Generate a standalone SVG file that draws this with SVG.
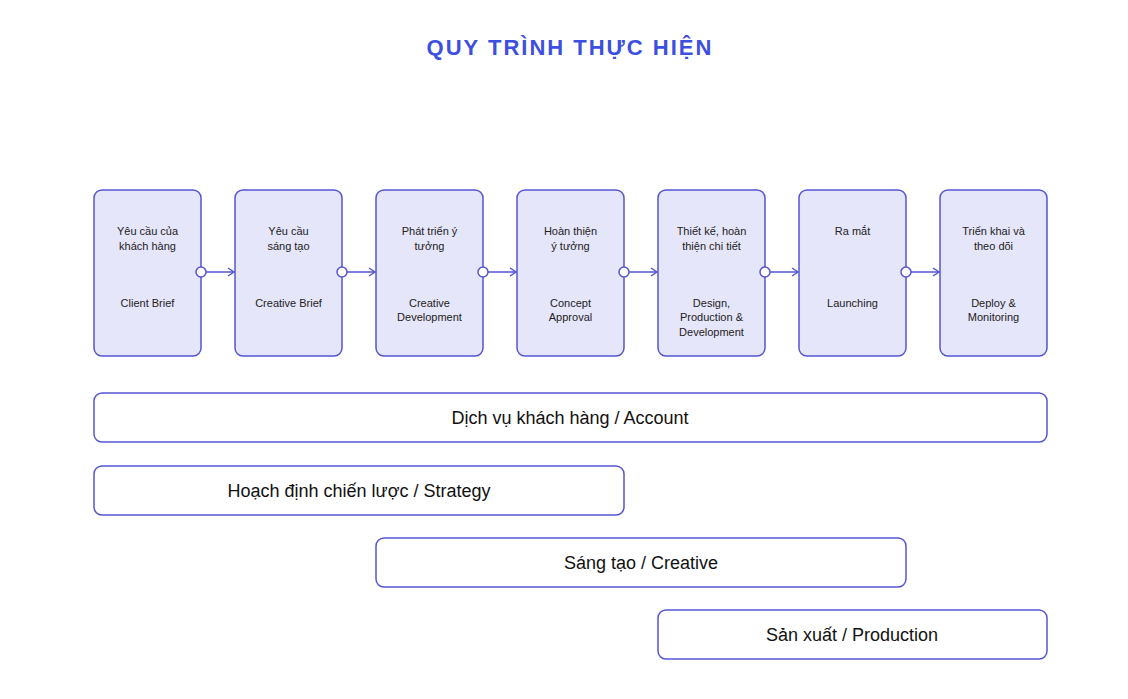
<svg xmlns="http://www.w3.org/2000/svg" width="1128" height="699" viewBox="0 0 1128 699">
<style>
.n{fill:#e6e6fa;stroke:#5555d4;stroke-width:1.5}
.b{fill:#fff;stroke:#5555d4;stroke-width:1.5}
.t{font-family:"Liberation Sans",Arial,sans-serif;font-size:11px;fill:#222;text-anchor:middle}
.bt{font-family:"Liberation Sans",Arial,sans-serif;font-size:18px;fill:#111;text-anchor:middle}
.c{fill:#fff;stroke:#5555d4;stroke-width:1.5}
.l{stroke:#5555d4;stroke-width:1.5;fill:none}
</style>
<defs><marker id="a" markerWidth="10" markerHeight="10" refX="8" refY="5" orient="auto" markerUnits="userSpaceOnUse"><path d="M2,1 L8,5 L2,9" fill="none" stroke="#5555d4" stroke-width="1.5"/></marker></defs>
<rect width="1128" height="699" fill="#fff"/>
<text x="570" y="55" font-family="Liberation Sans,Arial,sans-serif" font-size="22" font-weight="bold" fill="#3c4fe0" text-anchor="middle" letter-spacing="2">QUY TRÌNH THỰC HIỆN</text>
<g id="connectors">
<path class="l" d="M206,272 H234" marker-end="url(#a)"/>
<path class="l" d="M347,272 H375" marker-end="url(#a)"/>
<path class="l" d="M488,272 H516" marker-end="url(#a)"/>
<path class="l" d="M629,272 H657" marker-end="url(#a)"/>
<path class="l" d="M770,272 H798" marker-end="url(#a)"/>
<path class="l" d="M911,272 H939" marker-end="url(#a)"/>
</g>
<g id="n1"><rect class="n" x="94" y="190" width="107" height="166" rx="8"/><text class="t" x="147.5" y="235">Yêu cầu của</text><text class="t" x="147.5" y="250">khách hàng</text><text class="t" x="147.5" y="307">Client Brief</text><circle class="c" cx="201" cy="272" r="5"/></g>
<g id="n2"><rect class="n" x="235" y="190" width="107" height="166" rx="8"/><text class="t" x="288.5" y="235">Yêu cầu</text><text class="t" x="288.5" y="250">sáng tạo</text><text class="t" x="288.5" y="307">Creative Brief</text><circle class="c" cx="342" cy="272" r="5"/></g>
<g id="n3"><rect class="n" x="376" y="190" width="107" height="166" rx="8"/><text class="t" x="429.5" y="235">Phát triển ý</text><text class="t" x="429.5" y="250">tưởng</text><text class="t" x="429.5" y="307">Creative</text><text class="t" x="429.5" y="321">Development</text><circle class="c" cx="483" cy="272" r="5"/></g>
<g id="n4"><rect class="n" x="517" y="190" width="107" height="166" rx="8"/><text class="t" x="570.5" y="235">Hoàn thiện</text><text class="t" x="570.5" y="250">ý tưởng</text><text class="t" x="570.5" y="307">Concept</text><text class="t" x="570.5" y="321">Approval</text><circle class="c" cx="624" cy="272" r="5"/></g>
<g id="n5"><rect class="n" x="658" y="190" width="107" height="166" rx="8"/><text class="t" x="711.5" y="235">Thiết kế, hoàn</text><text class="t" x="711.5" y="250">thiện chi tiết</text><text class="t" x="711.5" y="307">Design,</text><text class="t" x="711.5" y="321">Production &amp;</text><text class="t" x="711.5" y="336">Development</text><circle class="c" cx="765" cy="272" r="5"/></g>
<g id="n6"><rect class="n" x="799" y="190" width="107" height="166" rx="8"/><text class="t" x="852.5" y="235">Ra mắt</text><text class="t" x="852.5" y="307">Launching</text><circle class="c" cx="906" cy="272" r="5"/></g>
<g id="n7"><rect class="n" x="940" y="190" width="107" height="166" rx="8"/><text class="t" x="993.5" y="235">Triển khai và</text><text class="t" x="993.5" y="250">theo dõi</text><text class="t" x="993.5" y="307">Deploy &amp;</text><text class="t" x="993.5" y="321">Monitoring</text></g>
<g id="bar1"><rect class="b" x="94" y="393" width="953" height="49" rx="8"/><text class="bt" x="570" y="424">Dịch vụ khách hàng / Account</text></g>
<g id="bar2"><rect class="b" x="94" y="466" width="530" height="49" rx="8"/><text class="bt" x="359" y="497">Hoạch định chiến lược / Strategy</text></g>
<g id="bar3"><rect class="b" x="376" y="538" width="530" height="49" rx="8"/><text class="bt" x="641" y="569">Sáng tạo / Creative</text></g>
<g id="bar4"><rect class="b" x="658" y="610" width="389" height="49" rx="8"/><text class="bt" x="852" y="641">Sản xuất / Production</text></g>
</svg>
